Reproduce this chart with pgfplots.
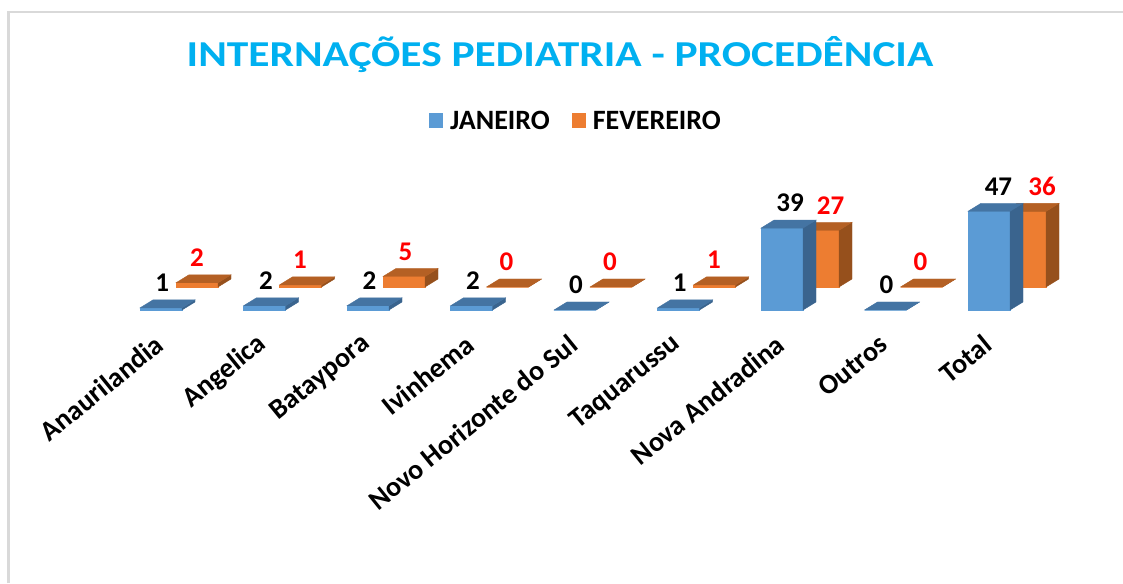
\documentclass[border=0pt]{standalone}
\usepackage{fontspec}
\setmainfont{Carlito}
\newfontfamily\titlefont{Carlito}[FakeStretch=1.19]
\usepackage{pgfplots}
\usepackage{pgfplotstable}
\pgfplotsset{compat=1.18}

\definecolor{janF}{RGB}{91,155,213}
\definecolor{janS}{RGB}{58,100,142}
\definecolor{janT}{RGB}{68,116,163}
\definecolor{fevF}{RGB}{237,125,49}
\definecolor{fevS}{RGB}{150,80,28}
\definecolor{fevT}{RGB}{180,96,36}
\definecolor{titlecol}{RGB}{0,176,240}
\definecolor{framecol}{RGB}{217,217,217}

% 3D box drawn from the top of each bar; \val is the bar value, 2.1pt per unit
\pgfdeclareplotmark{janbox}{%
  \pgfmathsetmacro\h{2.1*\val}%
  \fill[janF] (-21pt,-\h pt) rectangle (21pt,0pt);
  \fill[janS] (21pt,-\h pt) -- (21pt,0pt) -- (34pt,8pt) -- (34pt,8pt-\h pt) -- cycle;
  \fill[janT] (-21pt,0pt) -- (21pt,0pt) -- (34pt,8pt) -- (-8pt,8pt) -- cycle;
}
% back row: same box moved 36pt right and 23pt up
\pgfdeclareplotmark{fevbox}{%
  \pgfmathsetmacro\h{2.1*\val}%
  \fill[fevF] (15pt,23pt-\h pt) rectangle (57pt,23pt);
  \fill[fevS] (57pt,23pt-\h pt) -- (57pt,23pt) -- (70pt,31pt) -- (70pt,31pt-\h pt) -- cycle;
  \fill[fevT] (15pt,23pt) -- (57pt,23pt) -- (70pt,31pt) -- (28pt,31pt) -- cycle;
}

\pgfplotstableread{
x y
0 1
1 2
2 2
3 2
4 0
5 1
6 39
7 0
8 47
}\jan
\pgfplotstableread{
x y
0 2
1 1
2 5
3 0
4 0
5 1
6 27
7 0
8 36
}\fev

\begin{document}
\begin{tikzpicture}
\path[use as bounding box] (0pt,0pt) rectangle (1123pt,583pt);
\fill[white] (0pt,0pt) rectangle (1123pt,583pt);
\draw[framecol, line width=2.5pt] (8.5pt,0pt) -- (8.5pt,571pt) -- (1123pt,571pt);
\begin{axis}[
  at={(57.5pt,273pt)}, anchor=south west,
  x=103.5pt, y=2.1pt,
  xmin=-1, xmax=9, ymin=0, ymax=100,
  clip=false,
  axis line style={draw=none},
  ytick=\empty,
  xtick={0,...,8},
  xticklabels={Anaurilandia, Angelica, Bataypora, Ivinhema, Novo Horizonte do Sul, Taquarussu, Nova Andradina, Outros, Total},
  major tick length=0pt,
  /pgf/number format/assume math mode=true,
  xticklabel style={rotate=39, anchor=east, inner sep=0pt, font=\fontsize{28}{33}\selectfont\bfseries, xshift=-20.5pt, yshift=-23pt},
  title={\titlefont INTERNAÇÕES PEDIATRIA - PROCEDÊNCIA},
  title style={at={(0.4855,1.19)}, anchor=center, font=\fontsize{36.5}{44}\selectfont\bfseries, text=titlecol},
  legend style={at={(0.501,0.9)}, anchor=center, draw=none, fill=none,
    legend columns=2, font=\fontsize{28}{34}\selectfont\bfseries,
    /tikz/every even column/.append style={column sep=20pt}},
]
\addlegendimage{legend image code/.code={\path[draw=none] (0pt,0pt) -- (19pt,0pt); \fill[janF, draw=none] (0pt,-7.5pt) rectangle (14pt,7.5pt);}}
\addlegendentry{JANEIRO}
\addlegendimage{legend image code/.code={\path[draw=none] (0pt,0pt) -- (19pt,0pt); \fill[fevF, draw=none] (0pt,-7.5pt) rectangle (14pt,7.5pt);}}
\addlegendentry{FEVEREIRO}

\addplot[forget plot, scatter, only marks, mark=fevbox,
  visualization depends on={\thisrow{y} \as \val},
  nodes near coords,
  every node near coord/.append style={anchor=center, text=red,
    font=\fontsize{27}{32}\selectfont\bfseries,
    xshift={35pt+0.5pt*\val}, yshift=48pt}]
  table[x=x, y=y] {\fev};
\addplot[forget plot, scatter, only marks, mark=janbox,
  visualization depends on={\thisrow{y} \as \val},
  nodes near coords,
  every node near coord/.append style={anchor=center, text=black,
    font=\fontsize{27}{32}\selectfont\bfseries,
    xshift={1pt+0.18pt*\val}, yshift=25pt}]
  table[x=x, y=y] {\jan};
\end{axis}
\end{tikzpicture}
\end{document}
